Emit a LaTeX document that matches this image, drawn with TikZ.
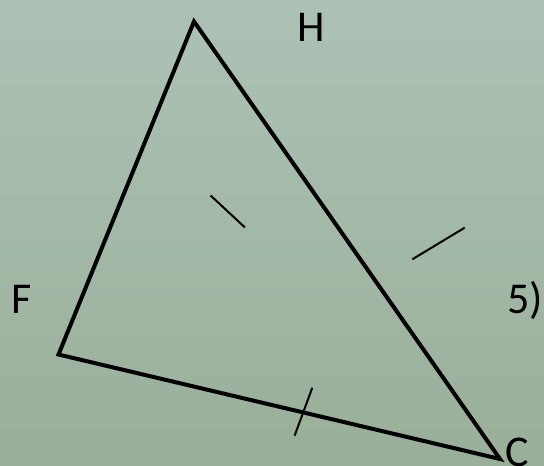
\documentclass[tikz,border=0pt]{standalone}
\usepackage{fontspec}
\setmainfont{Carlito}

\begin{document}
\begin{tikzpicture}[x=1pt, y=-1pt, line cap=round, line join=miter]

  % ── background: vertical gradient over the 544 x 466 canvas ──
  \definecolor{bgtop}{RGB}{173,194,181}
  \definecolor{bgbot}{RGB}{153,175,153}
  \shade[top color=bgtop, bottom color=bgbot] (0,0) rectangle (544,466);
  \path[use as bounding box] (0,0) rectangle (544,466);

  % ── triangle corners ──
  \coordinate (H) at (194,21.5);
  \coordinate (F) at (58.5,354.5);
  \coordinate (C) at (500,459);

  \draw[line width=4pt] (H) -- (C) -- (F) -- cycle;

  % ── the three tick marks ──
  \foreach \xa/\ya/\xb/\yb in {210.6/195.5/245/227.5,
                               412.3/259.3/464.7/227.7,
                               312.3/387.7/294.6/435.7}
    \draw[line width=2pt, line cap=butt] (\xa,\ya) -- (\xb,\yb);

  % ── labels (x / baseline / text) ──
  \foreach \x/\y/\name/\lab in {311.7/41.7/labH/H,
                                21.3/313.3/labF/F,
                                525/313.3/labfive/{5)},
                                517/466/labC/C}
    \node[anchor=base, inner sep=0pt, font=\fontsize{44}{50}\selectfont] (\name) at (\x,\y) {\lab};

\end{tikzpicture}
\end{document}
